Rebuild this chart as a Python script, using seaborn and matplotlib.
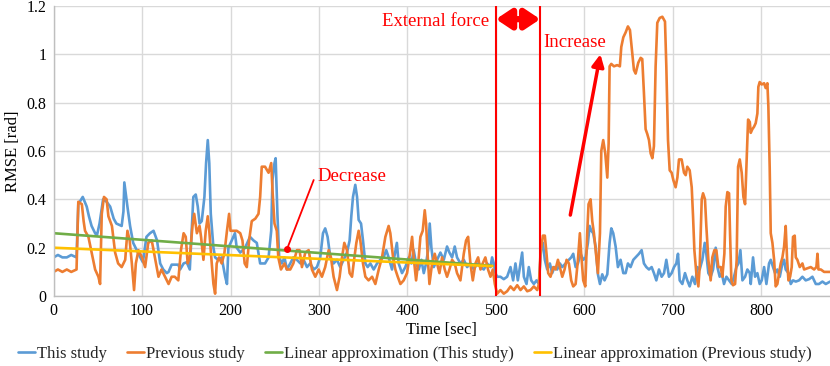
import numpy as np
import pandas as pd
import matplotlib
matplotlib.use("Agg")
import matplotlib.pyplot as plt
import seaborn as sns
from matplotlib.ticker import FuncFormatter

# values
t_this = [0, 5, 10, 15, 20, 26, 28, 33, 37.5, 40, 43, 47, 49, 52, 56, 60, 64, 68, 71, 77,
          79, 80, 83.5, 86.5, 90, 94, 98, 101, 105, 109, 113, 117, 120.5, 124, 128, 130, 133.5, 137, 141, 143,
          147, 150.5, 154, 158, 160.7, 163, 165, 167.5, 170.5, 172.4, 174.3, 176, 177.7, 180.7, 182.6, 186, 190, 194, 196, 197.6,
          201.4, 205, 207, 211, 216.5, 222, 226, 229.7, 233.5, 239, 243, 246, 247.4, 249.7, 251, 253, 255, 258, 261, 263.7,
          267.5, 271, 275, 279, 282.6, 286.4, 290, 294, 297.7, 301.4, 304.5, 307, 309.7, 312.8, 316.5, 320.3, 324, 327.8, 331.6, 334.6,
          336.5, 338.4, 341, 343, 344.8, 347.5, 349.7, 352.4, 355, 358, 361.8, 365.6, 369.3, 373, 376, 378.7, 382.5, 386, 388, 390,
          393.8, 397.6, 401.4, 404.4, 407, 409.7, 412.7, 415.7, 418.4, 421, 423.3, 425.1, 427, 429.7, 433.4, 437.2, 441, 444.7, 447.4, 450.4,
          453.4, 456, 459.8, 463.6, 467.4, 471.1, 475, 478.7, 482.5, 486.2, 490, 493.8, 495.6, 497.5, 499.4, 501.3, 505, 508.8, 512.6, 516.4,
          519.4, 522, 524.7, 527, 529.6, 531.5, 534.5, 537.1, 539.8, 542.8, 545.8, 548.5, 551.1, 553, 555.2, 557.9, 560.9, 563.5, 566.2, 569.2,
          572.2, 574.9, 578.6, 582.4, 585, 587.3, 590, 592.6, 595.6, 598.6, 601.2, 603.9, 605.8, 607.7, 609.9, 612.6, 615.2, 617.5, 620.1, 622.7,
          625.8, 628.4, 630.3, 632.5, 635.2, 637.8, 640.8, 643.9, 646.5, 649.1, 652.1, 655.2, 657.8, 661.6, 664.6, 667.2, 669.9, 672.9, 675.9, 678.5,
          681.2, 684.2, 687.2, 689.9, 692.5, 695.5, 698.5, 701.2, 703.8, 705.7, 707.6, 710.6, 713.6, 716.2, 718.9, 721.9, 724.9, 727.6, 730.2, 733.2,
          735.9, 737.7, 740, 742.6, 745.3, 748.3, 750.2, 752.8, 755.1, 757.7, 760.4, 763.4, 766.4, 769, 771.7, 774, 776.2, 778.5, 781.5, 784.1,
          786.8, 787.9, 790.5, 792.8, 795.4, 798, 800.3, 803, 805.6, 808.6, 810.5, 813.1, 815.4, 818, 820.7, 823.7, 825.6, 827.4, 830.5, 833.1,
          835.7, 838.8, 842.5, 846.3, 850, 853.8, 857.6, 861.4, 865, 868.9, 872.7, 877.6]
rmse_this = [0.16, 0.17, 0.16, 0.16, 0.17, 0.16, 0.38, 0.41, 0.37, 0.33, 0.29, 0.26, 0.25, 0.30, 0.40, 0.39, 0.37, 0.32, 0.30, 0.29,
             0.35, 0.47, 0.37, 0.29, 0.22, 0.19, 0.16, 0.14, 0.245, 0.26, 0.27, 0.23, 0.135, 0.11, 0.095, 0.10, 0.13, 0.13, 0.13, 0.11,
             0.135, 0.14, 0.11, 0.41, 0.42, 0.37, 0.30, 0.31, 0.41, 0.55, 0.645, 0.55, 0.34, 0.20, 0.16, 0.15, 0.16, 0.08, 0.05, 0.20,
             0.23, 0.26, 0.20, 0.18, 0.20, 0.245, 0.23, 0.22, 0.135, 0.135, 0.16, 0.27, 0.48, 0.55, 0.57, 0.34, 0.16, 0.135, 0.16, 0.11,
             0.135, 0.16, 0.15, 0.135, 0.15, 0.12, 0.135, 0.11, 0.12, 0.16, 0.26, 0.28, 0.245, 0.16, 0.135, 0.15, 0.12, 0.15, 0.18, 0.23,
             0.33, 0.41, 0.46, 0.41, 0.315, 0.30, 0.23, 0.135, 0.12, 0.135, 0.11, 0.135, 0.15, 0.16, 0.19, 0.16, 0.11, 0.18, 0.22, 0.135,
             0.095, 0.12, 0.16, 0.135, 0.19, 0.135, 0.11, 0.15, 0.095, 0.135, 0.19, 0.30, 0.20, 0.12, 0.15, 0.18, 0.15, 0.205, 0.18, 0.16,
             0.205, 0.16, 0.135, 0.15, 0.12, 0.135, 0.11, 0.135, 0.12, 0.11, 0.135, 0.12, 0.16, 0.135, 0.095, 0.08, 0.08, 0.07, 0.08, 0.12,
             0.065, 0.135, 0.065, 0.12, 0.18, 0.08, 0.05, 0.12, 0.065, 0.05, 0.065, 0.05, 0.205, 0.22, 0.15, 0.11, 0.135, 0.095, 0.12, 0.11,
             0.135, 0.12, 0.135, 0.15, 0.16, 0.175, 0.12, 0.135, 0.175, 0.15, 0.16, 0.22, 0.29, 0.27, 0.26, 0.205, 0.09, 0.05, 0.09, 0.065,
             0.09, 0.22, 0.28, 0.26, 0.205, 0.12, 0.15, 0.095, 0.095, 0.135, 0.12, 0.15, 0.16, 0.175, 0.19, 0.135, 0.12, 0.11, 0.12, 0.095,
             0.065, 0.11, 0.08, 0.095, 0.15, 0.08, 0.095, 0.12, 0.135, 0.175, 0.065, 0.05, 0.095, 0.065, 0.04, 0.08, 0.05, 0.12, 0.11, 0.15,
             0.22, 0.175, 0.095, 0.08, 0.11, 0.20, 0.12, 0.08, 0.095, 0.05, 0.08, 0.065, 0.05, 0.08, 0.12, 0.135, 0.19, 0.065, 0.08, 0.11,
             0.095, 0.05, 0.16, 0.08, 0.095, 0.05, 0.065, 0.12, 0.05, 0.135, 0.15, 0.12, 0.095, 0.11, 0.08, 0.135, 0.15, 0.11, 0.095, 0.05,
             0.065, 0.06, 0.065, 0.08, 0.065, 0.07, 0.08, 0.05, 0.05, 0.06, 0.05, 0.06]

t_prev = [0, 5, 10, 15, 20, 26, 28, 32, 34, 35.6, 39.4, 43, 47, 50.7, 52.6, 54.5, 57, 60, 62, 66,
          69.6, 73, 77, 81, 83.5, 86, 88.5, 91, 93, 96, 100, 103.5, 107, 111, 115, 118.6, 122, 126, 130, 133.5,
          137, 141, 144, 147, 149.4, 151.6, 154, 157, 159, 162, 165, 166.7, 169.4, 172, 174.3, 176, 178.8, 180.7, 182.6, 184.4,
          187, 190, 193, 196, 198.4, 200, 203, 207, 211, 213.5, 216, 218.4, 221, 224, 228, 231.6, 233.5, 235.3, 239, 243,
          246, 247.4, 249.7, 252.3, 254, 257, 261, 263.7, 267.5, 271, 275, 278, 280.7, 284.5, 288.3, 292, 295.8, 299.6, 303.3, 307,
          310.9, 313.5, 316.5, 320.3, 323.3, 326, 328.6, 331.6, 334.6, 337.3, 340, 342.2, 344.8, 346.7, 349.7, 352.4, 356, 360, 363.7, 367.5,
          371.2, 375, 378.7, 380.6, 383.7, 386.3, 389, 392, 395.7, 399.5, 403.3, 405.2, 407, 409.7, 412.7, 414.6, 417.2, 419.5, 421, 422.9,
          424.8, 427.8, 430.8, 433.4, 436.1, 439.1, 442.1, 444.7, 447.4, 450.4, 453.4, 456, 459.8, 463.6, 466.2, 468.5, 471.1, 473.8, 476.8, 479.8,
          482.5, 485, 488, 491, 493.8, 496.4, 498.7, 501.3, 505, 508.8, 512.6, 516.4, 520.2, 524, 527.7, 531.5, 535.3, 539, 542.8, 546.6,
          548.5, 550.3, 553, 555.2, 557.1, 559, 561.6, 564.7, 567.3, 570, 572.2, 574.9, 577.5, 579.8, 582.4, 585, 587.3, 590, 592.6, 594.8,
          596.3, 598.6, 600.9, 603.1, 604.6, 606.9, 608.8, 610.7, 613, 615.2, 617.5, 619, 621.2, 623.5, 625.8, 627.3, 628.4, 630.3, 633.3, 637,
          640, 641.6, 643.9, 646.5, 649.1, 651.4, 653.3, 655.9, 657.8, 660.8, 663.5, 665.3, 667.2, 669.1, 671, 672.9, 674.8, 676.7, 678.5, 680.4,
          682.3, 685, 688, 691, 692.5, 694.4, 696.3, 698.5, 700.4, 703, 705, 706.8, 709.8, 712.5, 714.4, 716.2, 718.9, 721.2, 722.7, 724.2,
          726.4, 728.7, 730.2, 732.5, 734, 736.2, 737.7, 740, 742.6, 744.5, 746.8, 749, 751.3, 754, 755.8, 758.1, 759.6, 761.5, 763.4, 764.5,
          766, 767.9, 770.2, 772, 773.6, 775.5, 777.7, 779.6, 781.5, 783, 784.9, 786.8, 787.9, 789.7, 791.6, 793.5, 795.4, 796.5, 798, 800.3,
          803, 804.8, 806.7, 807.8, 809.3, 810.5, 812.4, 814.3, 816.1, 818, 819.9, 821.8, 823.7, 825.6, 827.4, 829, 830.5, 832.4, 834.2, 835.7,
          837.6, 838.8, 840.6, 843.3, 846.3, 848.2, 852, 855.7, 859.5, 862.1, 863.3, 864.4, 867.1, 870.8, 874.6, 877.6]
rmse_prev = [0.10, 0.11, 0.10, 0.11, 0.10, 0.11, 0.39, 0.38, 0.31, 0.27, 0.245, 0.18, 0.11, 0.08, 0.05, 0.34, 0.41, 0.40, 0.33, 0.29,
             0.18, 0.135, 0.12, 0.15, 0.27, 0.23, 0.135, 0.025, 0.135, 0.19, 0.16, 0.12, 0.22, 0.23, 0.15, 0.08, 0.11, 0.08, 0.05, 0.08,
             0.08, 0.065, 0.19, 0.26, 0.245, 0.135, 0.16, 0.29, 0.34, 0.26, 0.29, 0.245, 0.15, 0.27, 0.33, 0.27, 0.135, 0.05, 0.01, 0.135,
             0.16, 0.135, 0.175, 0.27, 0.34, 0.27, 0.27, 0.27, 0.26, 0.23, 0.135, 0.12, 0.23, 0.31, 0.32, 0.34, 0.41, 0.535, 0.535, 0.51,
             0.55, 0.44, 0.30, 0.27, 0.16, 0.11, 0.135, 0.11, 0.11, 0.135, 0.19, 0.19, 0.12, 0.18, 0.19, 0.11, 0.08, 0.11, 0.08, 0.12,
             0.19, 0.16, 0.08, 0.025, 0.08, 0.16, 0.22, 0.19, 0.095, 0.08, 0.16, 0.22, 0.27, 0.23, 0.135, 0.08, 0.065, 0.08, 0.05, 0.11,
             0.16, 0.245, 0.29, 0.26, 0.16, 0.11, 0.08, 0.05, 0.065, 0.095, 0.19, 0.245, 0.16, 0.065, 0.16, 0.245, 0.27, 0.355, 0.30, 0.16,
             0.05, 0.135, 0.175, 0.135, 0.095, 0.16, 0.11, 0.08, 0.11, 0.15, 0.135, 0.095, 0.065, 0.175, 0.23, 0.245, 0.135, 0.065, 0.135, 0.16,
             0.11, 0.135, 0.16, 0.11, 0.08, 0.11, 0.05, 0.01, 0.025, 0.01, 0.02, 0.04, 0.025, 0.045, 0.025, 0.04, 0.02, 0.025, 0.04, 0.025,
             0.05, 0.175, 0.25, 0.25, 0.175, 0.095, 0.08, 0.12, 0.11, 0.15, 0.12, 0.08, 0.11, 0.15, 0.135, 0.065, 0.04, 0.05, 0.15, 0.26,
             0.175, 0.065, 0.04, 0.26, 0.38, 0.40, 0.31, 0.26, 0.175, 0.095, 0.26, 0.60, 0.645, 0.59, 0.49, 0.63, 0.95, 0.96, 0.95, 0.955,
             0.95, 1.03, 1.07, 1.09, 1.115, 1.10, 1.03, 0.935, 0.92, 0.965, 0.985, 0.98, 0.84, 0.69, 0.67, 0.645, 0.59, 0.57, 0.62, 0.95,
             1.13, 1.15, 1.155, 1.135, 0.95, 0.645, 0.52, 0.51, 0.48, 0.45, 0.49, 0.565, 0.565, 0.51, 0.50, 0.535, 0.52, 0.45, 0.33, 0.19,
             0.095, 0.04, 0.12, 0.40, 0.425, 0.40, 0.29, 0.15, 0.065, 0.16, 0.19, 0.19, 0.12, 0.12, 0.08, 0.175, 0.37, 0.43, 0.425, 0.26,
             0.065, 0.045, 0.05, 0.15, 0.535, 0.565, 0.51, 0.41, 0.38, 0.53, 0.73, 0.72, 0.675, 0.69, 0.70, 0.715, 0.755, 0.865, 0.885, 0.875,
             0.88, 0.86, 0.88, 0.785, 0.535, 0.26, 0.22, 0.15, 0.04, 0.05, 0.095, 0.135, 0.16, 0.205, 0.29, 0.15, 0.065, 0.08, 0.12, 0.245,
             0.25, 0.16, 0.15, 0.12, 0.135, 0.11, 0.115, 0.12, 0.11, 0.12, 0.175, 0.11, 0.11, 0.10, 0.10, 0.10]

# linear approximations (0 - 500 sec)
trend_t = [0, 496]
trend_this = [0.26, 0.125]
trend_prev = [0.20, 0.124]

force_start, force_end = 500, 550
x_ticks = list(range(0, 900, 100))
y_ticks = [0, 0.2, 0.4, 0.6, 0.8, 1.0, 1.2]

sns.set_theme(style="whitegrid")
plt.rcParams["font.family"] = ["Liberation Serif", "DejaVu Serif"]

fig = plt.figure(figsize=(8.3, 3.66), dpi=100)
ax = fig.add_axes([0.0645, 0.191, 0.935, 0.793])
ax.set_facecolor("white")

lw = 1.9
sns.lineplot(x=t_this, y=rmse_this, ax=ax, color="#5B9BD5", lw=lw, label="This study")
sns.lineplot(x=t_prev, y=rmse_prev, ax=ax, color="#ED7D31", lw=lw, label="Previous study")
sns.lineplot(x=trend_t, y=trend_this, ax=ax, color="#70AD47", lw=lw,
             label="Linear approximation (This study)")
sns.lineplot(x=trend_t, y=trend_prev, ax=ax, color="#FFC000", lw=lw,
             label="Linear approximation (Previous study)")

red = "#FF0000"
ax.axvline(force_start, color=red, lw=1.5, zorder=5)
ax.axvline(force_end, color=red, lw=1.5, zorder=5)
ax.annotate("", xy=(force_start, 1.145), xytext=(force_end, 1.145),
            arrowprops=dict(arrowstyle="<|-|>,head_width=0.5,head_length=0.75",
                            lw=4.5, color=red, shrinkA=0, shrinkB=0))
ax.text(force_start - 8, 1.136, "External force", color=red, fontsize=13.5,
        ha="right", va="center")
ax.annotate("", xy=(618, 1.0), xytext=(584, 0.335),
            arrowprops=dict(arrowstyle="-|>,head_width=0.3,head_length=0.6",
                            lw=2.5, color=red, shrinkA=0, shrinkB=0))
ax.text(force_end + 4, 1.05, "Increase", color=red, fontsize=13.5, ha="left", va="center")
ax.plot([263.7, 294], [0.193, 0.48], color=red, lw=1.3, zorder=6)
ax.plot([263.7], [0.193], "o", color=red, ms=4, zorder=6)
ax.text(298, 0.494, "Decrease", color=red, fontsize=13.5, ha="left", va="center")

ax.set_xlim(0, 877)
ax.set_ylim(0, 1.2)
ax.set_xticks(x_ticks)
ax.set_yticks(y_ticks)
ax.yaxis.set_major_formatter(FuncFormatter(lambda v, p: "%g" % v))
ax.tick_params(length=0, labelsize=11.5, colors="black", pad=5)
ax.grid(True, color="#D9D9D9", lw=1.0)
for side in ["top", "right"]:
    ax.spines[side].set_visible(False)
for side in ["left", "bottom"]:
    ax.spines[side].set_color("#BFBFBF")
    ax.spines[side].set_linewidth(1.0)

ax.set_xlabel("Time [sec]", fontsize=12, color="black", labelpad=2)
ax.set_ylabel("RMSE [rad]", fontsize=12, color="black", labelpad=4)

handles, labels = ax.get_legend_handles_labels()
ax.get_legend().remove()
fig.legend(handles, labels, loc="center", bbox_to_anchor=(0.5, 1 - 354 / 366), ncol=4,
           frameon=False, fontsize=12, handlelength=1.0, handletextpad=0.15,
           columnspacing=1.2, borderaxespad=0, borderpad=0)

fig.savefig("out.png", dpi=100, facecolor="white")
